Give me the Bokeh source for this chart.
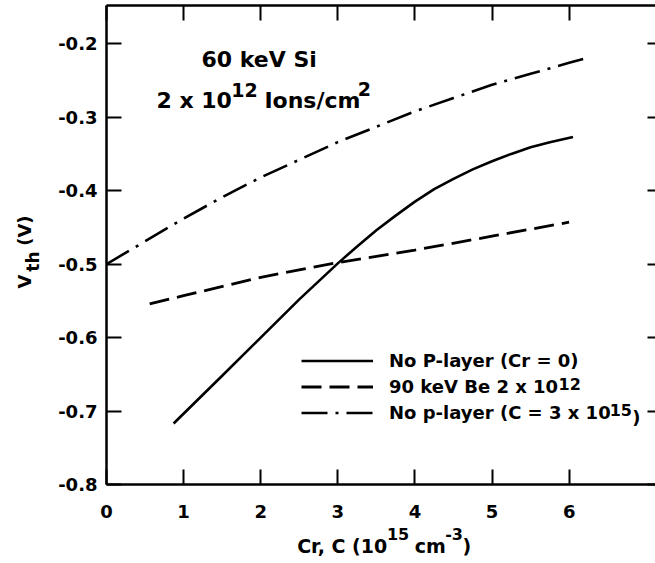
import math
from bokeh.plotting import figure
from bokeh.models import Range1d, LinearAxis, FixedTicker, Label, Legend, LegendItem
from bokeh.embed import file_html
from bokeh.resources import INLINE

# ---------------- data ----------------
solid_x = [0.87, 1.5, 2.0, 2.5, 3.0, 3.25, 3.5, 3.75, 4.0, 4.25, 4.5, 4.75, 5.0, 5.25, 5.5, 5.75, 6.05]
solid_y = [-0.717, -0.652, -0.600, -0.548, -0.499, -0.476, -0.454, -0.434, -0.415, -0.398,
           -0.384, -0.371, -0.360, -0.350, -0.341, -0.334, -0.327]

dashed_x = [0.56, 1.0, 2.0, 3.0, 4.0, 5.0, 6.0]
dashed_y = [-0.554, -0.543, -0.518, -0.498, -0.481, -0.462, -0.443]

dashdot_x = [0.0, 0.5, 1.0, 1.5, 2.0, 2.5, 3.0, 3.5, 4.0, 4.5, 5.0, 5.5, 6.0, 6.25]
dashdot_y = [-0.500, -0.469, -0.438, -0.409, -0.382, -0.358, -0.334, -0.313, -0.292,
             -0.274, -0.256, -0.241, -0.226, -0.219]

series_labels = ["No P-layer (Cr = 0)", "90 keV Be 2 x 10", "No p-layer (C = 3 x 10"]

x_ticks = [0, 1, 2, 3, 4, 5, 6]
x_tick_labels = ["0", "1", "2", "3", "4", "5", "6"]
y_ticks = [-0.8, -0.7, -0.6, -0.5, -0.4, -0.3, -0.2]
y_tick_labels = ["-0.8", "-0.7", "-0.6", "-0.5", "-0.4", "-0.3", "-0.2"]

FONT = "DejaVu Sans"

X0, X1 = 0.0, 7.12
Y0, Y1 = -0.8, -0.148
FL, FB, FT, FR = 105, 484, 5, 655  # frame edges in page pixels

# ---------------- figure ----------------
p = figure(width=655, height=563, x_range=Range1d(X0, X1), y_range=Range1d(Y0, Y1),
           output_backend="svg", toolbar_location=None,
           min_border_left=FL, min_border_right=0, min_border_top=FT, min_border_bottom=563 - FB)
p.outline_line_color = None
p.grid.visible = False
p.background_fill_color = "white"
p.border_fill_color = "white"


def style(ax, ticks, tick_in, labels=None, standoff=0, line=True):
    ax.ticker = FixedTicker(ticks=ticks)
    ax.major_tick_in = tick_in
    ax.major_tick_out = 0
    ax.major_tick_line_width = 2
    ax.major_tick_line_color = "black"
    ax.minor_tick_line_color = None
    ax.axis_line_width = 2.5
    ax.axis_line_color = "black" if line else None
    ax.major_label_standoff = standoff
    if labels is None:
        ax.major_label_text_font_size = "0px"
        ax.major_label_overrides = {t: "" for t in ticks}
    else:
        ax.major_label_overrides = dict(zip(ticks, labels))
        ax.major_label_text_font = FONT
        ax.major_label_text_font_style = "bold"
        ax.major_label_text_font_size = "18px"
        ax.major_label_text_color = "black"


style(p.xaxis[0], x_ticks, 15, x_tick_labels, standoff=20)
style(p.yaxis[0], y_ticks, 15, y_tick_labels, standoff=9)
top_ax = LinearAxis()
style(top_ax, x_ticks, 15)
p.add_layout(top_ax, "above")
right_ax = LinearAxis()
style(right_ax, y_ticks, 8, line=False)
p.add_layout(right_ax, "right")

# ---------------- curves ----------------
r1 = p.line(solid_x, solid_y, line_color="black", line_width=2.6)
r2 = p.line(dashed_x, dashed_y, line_color="black", line_width=2.8, line_dash="20 8")
r3 = p.line(dashdot_x, dashdot_y, line_color="black", line_width=2.6, line_dash="26 8 3 8")

# ---------------- legend ----------------
legend = Legend(items=[LegendItem(label=series_labels[0], renderers=[r1]),
                       LegendItem(label=series_labels[1], renderers=[r2]),
                       LegendItem(label=series_labels[2], renderers=[r3])],
                location=(195, 61.5))
legend.glyph_width = 72
legend.glyph_height = 21
legend.label_height = 21
legend.label_standoff = 16
legend.spacing = 5
legend.padding = 0
legend.margin = 0
legend.border_line_color = None
legend.background_fill_alpha = 0
legend.label_text_font = FONT
legend.label_text_font_style = "bold"
legend.label_text_font_size = "18px"
legend.label_text_color = "black"
p.add_layout(legend, "center")

# ---------------- text helpers ----------------
W = {' ': .348, '.': .381, ',': .381, '-': .416, '(': .457, ')': .457, '=': .838, '/': .365,
     'x': .712, 'a': .675, 'c': .593, 'e': .678, 'h': .712, 'i': .343, 'k': .665, 'l': .343,
     'm': 1.042, 'n': .712, 'o': .687, 'p': .716, 'r': .493, 's': .595, 't': .478, 'y': .652,
     'B': .762, 'C': .734, 'I': .372, 'N': .837, 'P': .733, 'S': .720, 'V': .774}
K = 0.972


def width(text, size):
    return sum(W.get(c, .696) for c in text) * size * K


def put(text, px, py, size):
    p.add_layout(Label(x=px - FL, y=FB - py, x_units="screen", y_units="screen", text=text,
                       text_font=FONT, text_font_style="bold", text_font_size=f"{size}px",
                       text_baseline="alphabetic", text_align="left", text_color="black"))


def chain(parts, px, py, draw=True):
    """parts: (text, size, raise_px). Returns list of (text, size, rise, left, right)."""
    x = px
    out = []
    for text, size, rise in parts:
        lead = len(text) - len(text.lstrip(' '))
        x += lead * W[' '] * size * K
        t = text.strip(' ')
        w = width(t, size)
        if draw:
            put(t, x, py - rise, size)
        out.append((t, size, rise, x, x + w))
        x += w
    return out


# annotation inside the plot
put("60 keV Si", 200, 59, 22)
chain([("2 x 10", 22, 0), ("12", 19, 11), (" Ions/cm", 22, 0), ("2", 19, 12)], 155, 100)

# legend superscripts (row centres at page y 360, 386, 412; label x at 388)
lx = 388
x2 = lx + width(series_labels[1], 18) + 3
put("12", x2, 386 - 3, 16)
x3 = lx + width(series_labels[2], 18) + 3
put("15", x3, 412 - 3, 16)
put(")", x3 + width("15", 16) + 1, 412 + 5, 18)


# ---------------- axis titles as unclipped text rows in the side panels ----------------
def px_to_x(px):
    return round(X0 + (px - FL) * (X1 - X0) / (FR - FL), 4)


def py_to_y(py):
    return round(Y0 + (FB - py) * (Y1 - Y0) / (FB - FT), 4)


def text_axis(side, ticks, labels, size, standoff, orient=None):
    ax = LinearAxis(ticker=FixedTicker(ticks=ticks))
    ax.major_label_overrides = dict(zip(ticks, labels))
    ax.axis_line_color = None
    ax.major_tick_line_color = None
    ax.minor_tick_line_color = None
    ax.major_tick_in = 0
    ax.major_tick_out = 0
    ax.major_label_standoff = standoff
    ax.major_label_text_font = FONT
    ax.major_label_text_font_style = "bold"
    ax.major_label_text_font_size = f"{size}px"
    ax.major_label_text_color = "black"
    if orient is not None:
        ax.major_label_orientation = orient
    p.add_layout(ax, side)


# x title: "Cr, C (10^15 cm^-3)"
xt = chain([("Cr, C (10", 19, 0), ("15", 16, 8), (" cm", 19, 0), ("-3", 16, 8), (")", 19, 0)],
           296, 555, draw=False)
sup = [s for s in xt if s[2] > 0]
base = [s for s in xt if s[2] == 0]
text_axis("below", [px_to_x((s[3] + s[4]) / 2) for s in sup], [s[0] for s in sup], 16, 7)
text_axis("below", [px_to_x((s[3] + s[4]) / 2) for s in base], [s[0] for s in base], 19, -8)

# y title: "V_th (V)" reading upward; anchor positions (page y) of the pieces
ytitle_main = ["V", "(V)"]
ytitle_main_py = [274, 215]
ytitle_sub = ["th"]
ytitle_sub_py = [251]
text_axis("left", [py_to_y(v) for v in ytitle_sub_py], ytitle_sub, 17, 22, orient=math.pi / 2)
text_axis("left", [py_to_y(v) for v in ytitle_main_py], ytitle_main, 18, -14, orient=math.pi / 2)

open("out.html", "w").write(file_html(p, INLINE))
